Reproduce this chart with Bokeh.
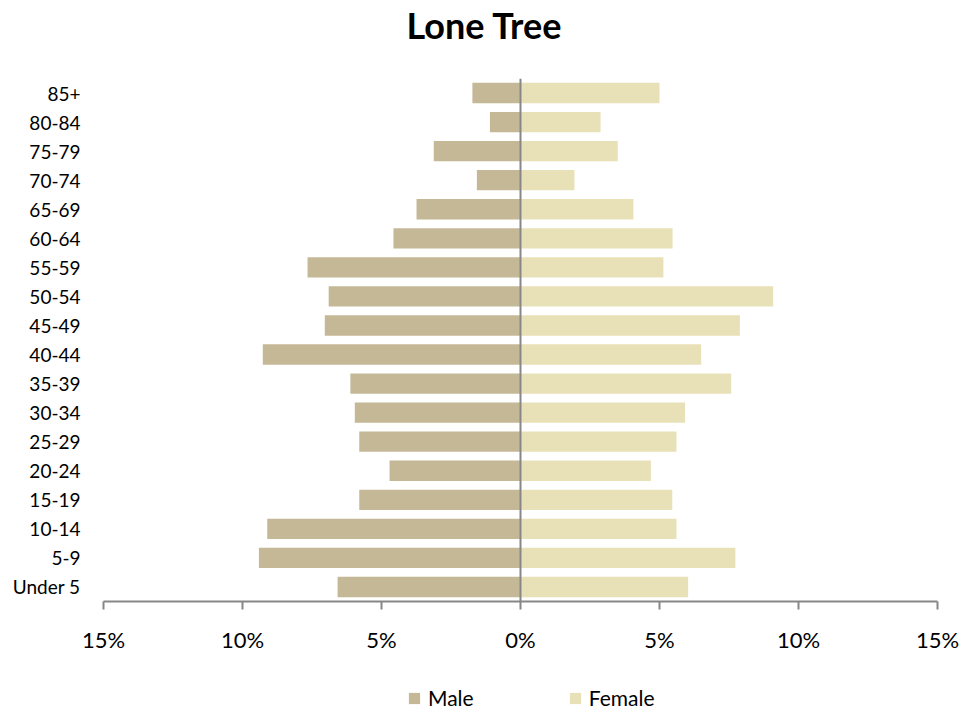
from bokeh.plotting import figure
from bokeh.layouts import column
from bokeh.models import ColumnDataSource, Range1d, FactorRange, FixedTicker, Span, Legend, LegendItem, Title
from bokeh.embed import file_html
from bokeh.resources import INLINE

ages = ["Under 5", "5-9", "10-14", "15-19", "20-24", "25-29", "30-34", "35-39", "40-44",
        "45-49", "50-54", "55-59", "60-64", "65-69", "70-74", "75-79", "80-84", "85+"]
male = [6.58, 9.41, 9.11, 5.80, 4.71, 5.80, 5.96, 6.12, 9.27, 7.04, 6.90, 7.66, 4.57, 3.74, 1.57, 3.12, 1.10, 1.73]
female = [6.03, 7.73, 5.61, 5.46, 4.69, 5.61, 5.92, 7.58, 6.50, 7.89, 9.09, 5.14, 5.47, 4.06, 1.94, 3.50, 2.88, 5.00]
x_ticks = [-15, -10, -5, 0, 5, 10, 15]
x_labels = ["15%", "10%", "5%", "0%", "5%", "10%", "15%"]
series_names = ["Male", "Female"]
chart_title = "Lone Tree"

FONT = "Lato"
MALE_C = "#C4B896"
FEMALE_C = "#E8E1B7"
AXIS_C = "#878787"

src = ColumnDataSource(dict(age=ages, male_left=[-m for m in male], female=female))

p = figure(width=979, height=670, output_backend="svg", toolbar_location=None, title=None,
           x_range=Range1d(-15, 15), y_range=FactorRange(factors=ages, range_padding=0),
           min_border_left=103, min_border_right=42, min_border_top=76, min_border_bottom=69)

p.hbar(y="age", left="male_left", right=0, height=0.7, source=src,
       fill_color=MALE_C, line_color=None)
p.hbar(y="age", left=0, right="female", height=0.7, source=src,
       fill_color=FEMALE_C, line_color=None)

p.add_layout(Span(location=0, dimension="height", line_color=AXIS_C, line_width=2))

# spacer nearest the frame, then the visible title above it
p.add_layout(Title(text=" ", text_font_size="1px", standoff=29), "above")
p.add_layout(Title(text=chart_title, text_font=FONT, text_font_size="36px",
                   text_font_style="bold", text_color="#000000",
                   align="left", offset=303, standoff=0), "above")

xa = p.xaxis[0]
xa.ticker = FixedTicker(ticks=x_ticks)
xa.major_label_overrides = {t: l for t, l in zip(x_ticks, x_labels)}
xa.axis_line_color = AXIS_C
xa.axis_line_width = 2
xa.major_tick_line_color = AXIS_C
xa.major_tick_line_width = 2
xa.major_tick_in = 0
xa.major_tick_out = 8
xa.minor_tick_line_color = None
xa.major_label_standoff = 16
xa.major_label_text_font = FONT
xa.major_label_text_font_size = "22px"
xa.major_label_text_color = "#000000"

ya = p.yaxis[0]
ya.axis_line_color = None
ya.major_tick_line_color = None
ya.minor_tick_line_color = None
ya.major_label_standoff = 17
ya.major_label_text_font = FONT
ya.major_label_text_font_size = "19px"
ya.major_label_text_color = "#000000"

p.xgrid.grid_line_color = None
p.ygrid.grid_line_color = None
p.outline_line_color = None

# legend strip below the chart (its zero-height bars show nothing, only the legend shows)
pl = figure(width=979, height=43, output_backend="svg", toolbar_location=None, title=None,
            x_range=Range1d(-15, 15), y_range=FactorRange(factors=ages, range_padding=0),
            x_axis_location=None, y_axis_location=None,
            min_border_left=103, min_border_right=42, min_border_top=0, min_border_bottom=0)
pl.xgrid.grid_line_color = None
pl.ygrid.grid_line_color = None
pl.outline_line_color = None
lm = pl.hbar(y="age", left="male_left", right=0, height=0, source=src,
             fill_color=MALE_C, line_color=None)
lf = pl.hbar(y="age", left=0, right="female", height=0, source=src,
             fill_color=FEMALE_C, line_color=None)
legend = Legend(items=[LegendItem(label=series_names[0], renderers=[lm]),
                       LegendItem(label=series_names[1], renderers=[lf])],
                orientation="horizontal", location=(304, 3),
                glyph_width=14, glyph_height=14, label_standoff=7, spacing=94,
                padding=0, margin=0, border_line_color=None, background_fill_alpha=0,
                label_text_font=FONT, label_text_font_size="21px", label_text_color="#000000")
pl.add_layout(legend, "center")

open("out.html", "w").write(file_html(column(p, pl, spacing=0), INLINE))
